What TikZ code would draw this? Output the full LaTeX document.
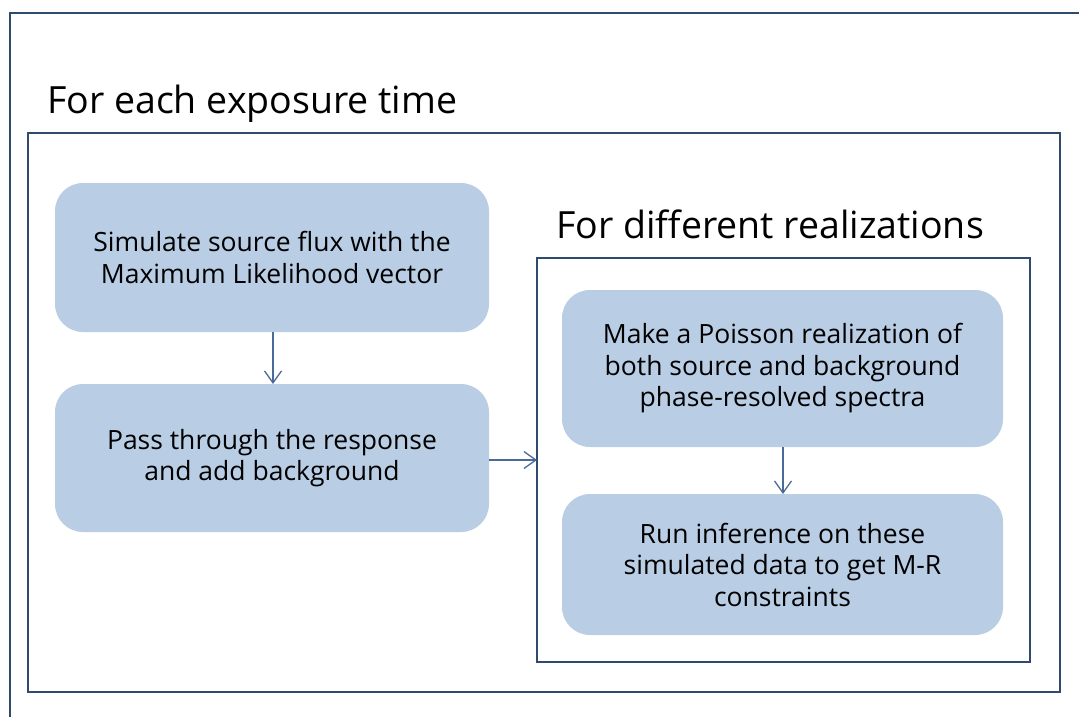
\documentclass[tikz,border=0pt]{standalone}
\usepackage{fontspec}
\setmainfont{Open Sans}
\usetikzlibrary{arrows.meta}
\definecolor{frameblue}{HTML}{2F4A6C}
\definecolor{boxfill}{HTML}{B9CDE4}
\definecolor{arrowblue}{HTML}{4A6B9A}
\tikzset{
  frame/.style={draw=frameblue, line width=2.6pt},
  stepbox/.style={fill=boxfill, rounded corners=28pt, text=black, align=center,
    font=\fontsize{26.5}{31.5}\selectfont},
  flow/.style={draw=arrowblue, line width=1.3pt, -{Straight Barb[length=12pt,width=17pt,line width=1.3pt]}},
  heading/.style={anchor=base west, font=\fontsize{37.5}{44}\selectfont, text=black, inner sep=0pt}
}
\begin{document}
\begin{tikzpicture}[x=1pt,y=-1pt]
\useasboundingbox (0,0) rectangle (1079,716);
\begin{scope}
\clip (0,0) rectangle (1079,716);
\draw[frame] (10,13) rectangle (1100,740);
\end{scope}
\node[heading] (t1) at (47,113) {For each exposure time};
\draw[frame] (28,133) rectangle (1060,692);
\node[heading] (t2) at (556,238) {For different realizations};
\draw[frame] (537,258) rectangle (1030,662);
\coordinate (in2) at (537,460);

\path[stepbox] (55,183) rectangle (489,332);
\node[stepbox, fill=none] (b1) at (272,257.5) {Simulate source flux with the\\Maximum Likelihood vector};
\path[stepbox] (55,384) rectangle (489,532);
\node[stepbox, fill=none] (b2) at (272,458) {Pass through the response\\and add background};
\path[stepbox] (562,290) rectangle (1003,447);
\node[stepbox, fill=none] (b3) at (782.5,368.5) {Make a Poisson realization of\\both source and background\\phase-resolved spectra};
\path[stepbox] (562,494) rectangle (1003,635);
\node[stepbox, fill=none] (b4) at (782.5,564.5) {Run inference on these\\simulated data to get M-R\\constraints};

\coordinate (a1s) at (273,332);
\coordinate (a1e) at (273,384);
\draw[flow] (a1s) -- (a1e);
\coordinate (a2s) at (489,460);
\draw[flow] (a2s) -- (in2);
\coordinate (a3s) at (783,447);
\coordinate (a3e) at (783,494);
\draw[flow] (a3s) -- (a3e);
\end{tikzpicture}
\end{document}
